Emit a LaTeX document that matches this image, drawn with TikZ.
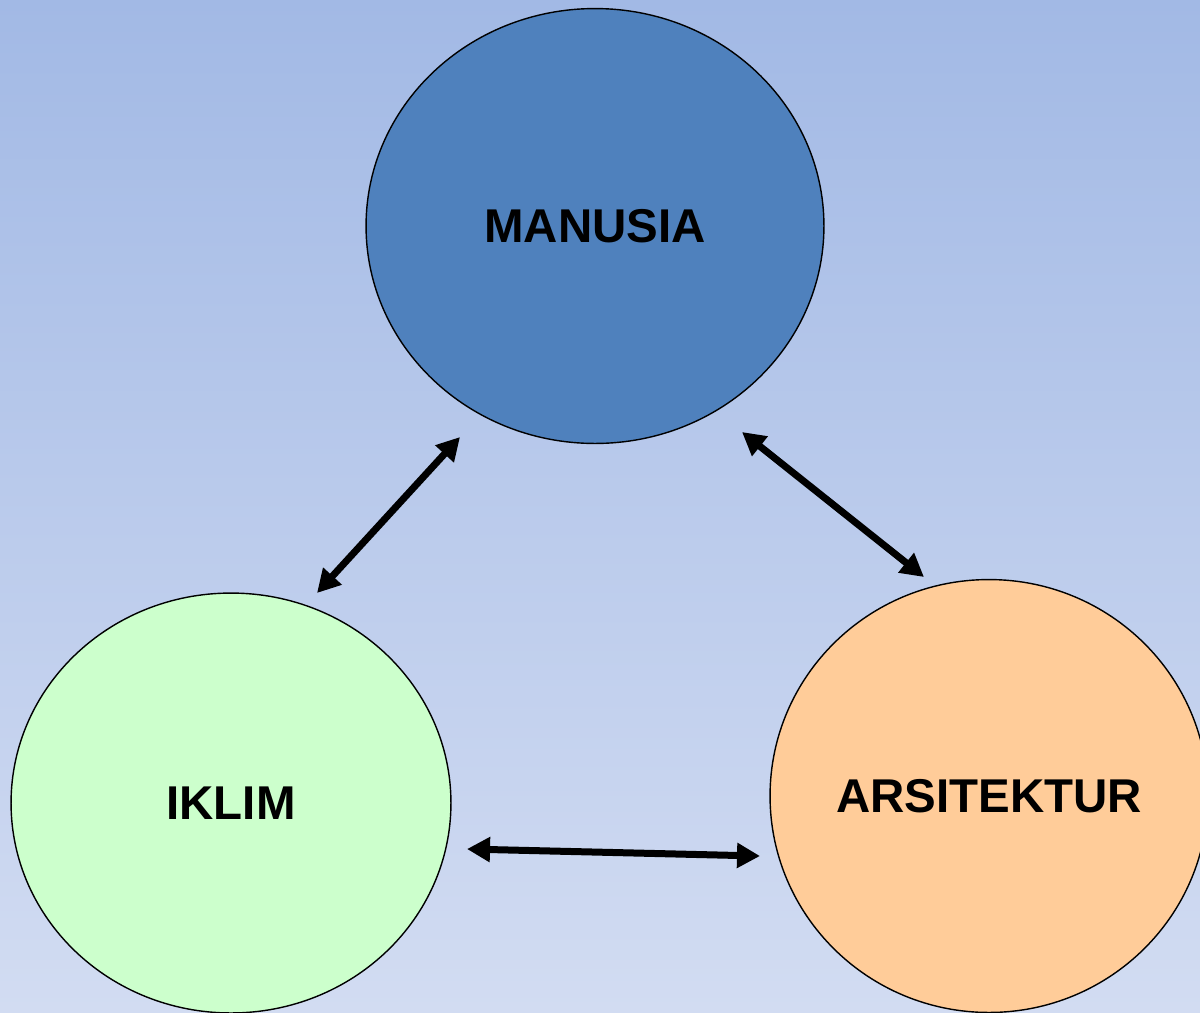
\documentclass[tikz,border=0pt]{standalone}
\usepackage{fontspec}
\setmainfont{Liberation Sans}
\usetikzlibrary{arrows.meta,shapes.geometric}
\definecolor{bgtop}{RGB}{162,185,229}
\definecolor{bgbottom}{RGB}{210,220,242}
\definecolor{manusiablue}{RGB}{79,129,189}
\definecolor{iklimgreen}{RGB}{204,255,204}
\definecolor{arsiorange}{RGB}{255,204,153}

\begin{document}
\begin{tikzpicture}[x=0.02cm, y=-0.02cm, >={Triangle[length=0.46cm,width=0.48cm]}]
			\tikzstyle{topic}=[ellipse,draw=black,line width=0.8pt,text=black,inner sep=0pt,
			font=\fontsize{27}{30}\selectfont\bfseries]
			\tikzstyle{link}=[<->,line width=0.14cm]

			\shade[top color=bgtop, bottom color=bgbottom] (0,0) rectangle (1200,1012);
			\useasboundingbox (0,0) rectangle (1200,1012);

			\begin{scope}
				\node[topic,fill=manusiablue,minimum width=9.16cm,minimum height=8.7cm] (manusia)
				at (595,226) {MANUSIA}; \node[topic,fill=iklimgreen,minimum width=8.8cm,
				minimum height=8.4cm] (iklim) at (231,803) {IKLIM};
				\node[topic,fill=arsiorange,minimum width=8.76cm,minimum height=8.66cm]
				(arsitektur) at (989,796) {ARSITEKTUR};

				\coordinate (m-iklim) at (460,437); \coordinate (iklim-m) at (317,593);
				\coordinate (m-arsi) at (742,432); \coordinate (arsi-m) at (924,577);
				\coordinate (iklim-arsi) at (467,849); \coordinate (arsi-iklim) at (760,856);

				\draw[link] (iklim-m) -- (m-iklim); \draw[link] (m-arsi) --
				(arsi-m); \draw[link] (iklim-arsi) -- (arsi-iklim);
			\end{scope}
		\end{tikzpicture}
\end{document}
